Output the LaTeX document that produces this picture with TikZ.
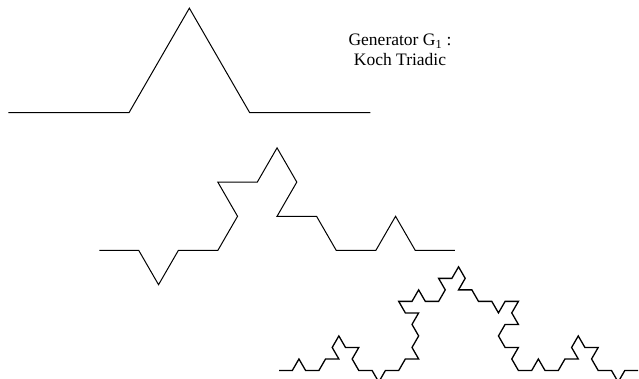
\documentclass[tikz,border=0pt]{standalone}
\usepackage{fontspec}
\setmainfont{Liberation Serif}
\usepackage{tikz}

\begin{document}
\begin{tikzpicture}[x=1pt, y=1pt, line join=miter,
    curve/.style={line width=1pt, black},
    title/.style={font=\fontsize{17.5}{20}\selectfont, align=center}]
    \useasboundingbox (0,0) rectangle (639,379);

    \pgfmathsetmacro{\sone}{120.7}
    \pgfmathsetmacro{\stwo}{39.5}
    \pgfmathsetmacro{\sthree}{13.3}

    % turning angles of each stage
    \def\dirsone{0,60,-60,0}
    \def\dirstwo{0,-60,60,0, 60,120,0,60, -60,-120,0,-60, 0,60,-60,0}
    \def\dirsthree{0,60,-60,0, 60,0,120,60, -60,0,-120,-60, 0,-60,60,0,
        60,0,120,60, 120,60,180,120, 0,60,-60,0, 60,120,0,60,
        -60,-120,0,-60, 0,-60,60,0, -120,-60,180,-120, -60,0,-120,-60,
        0,60,-60,0, 60,0,120,60, -60,0,-120,-60, 0,-60,60,0}

    \coordinate (S1) at (8.3, 266.3);
    \coordinate (S2) at (99.3, 128.5);
    \coordinate (S3) at (279, 8.5);

    \draw[curve] (S1) \foreach \a in \dirsone { -- ++(\a:\sone) };
    \draw[curve] (S2) \foreach \a in \dirstwo { -- ++(\a:\stwo) };
    \draw[curve, line width=1.3pt] (S3) \foreach \a in \dirsthree { -- ++(\a:\sthree) };

    \node[title] (gen) at (400, 329) {Generator G\textsubscript{1} :\\Koch Triadic};

\end{tikzpicture}
\end{document}
